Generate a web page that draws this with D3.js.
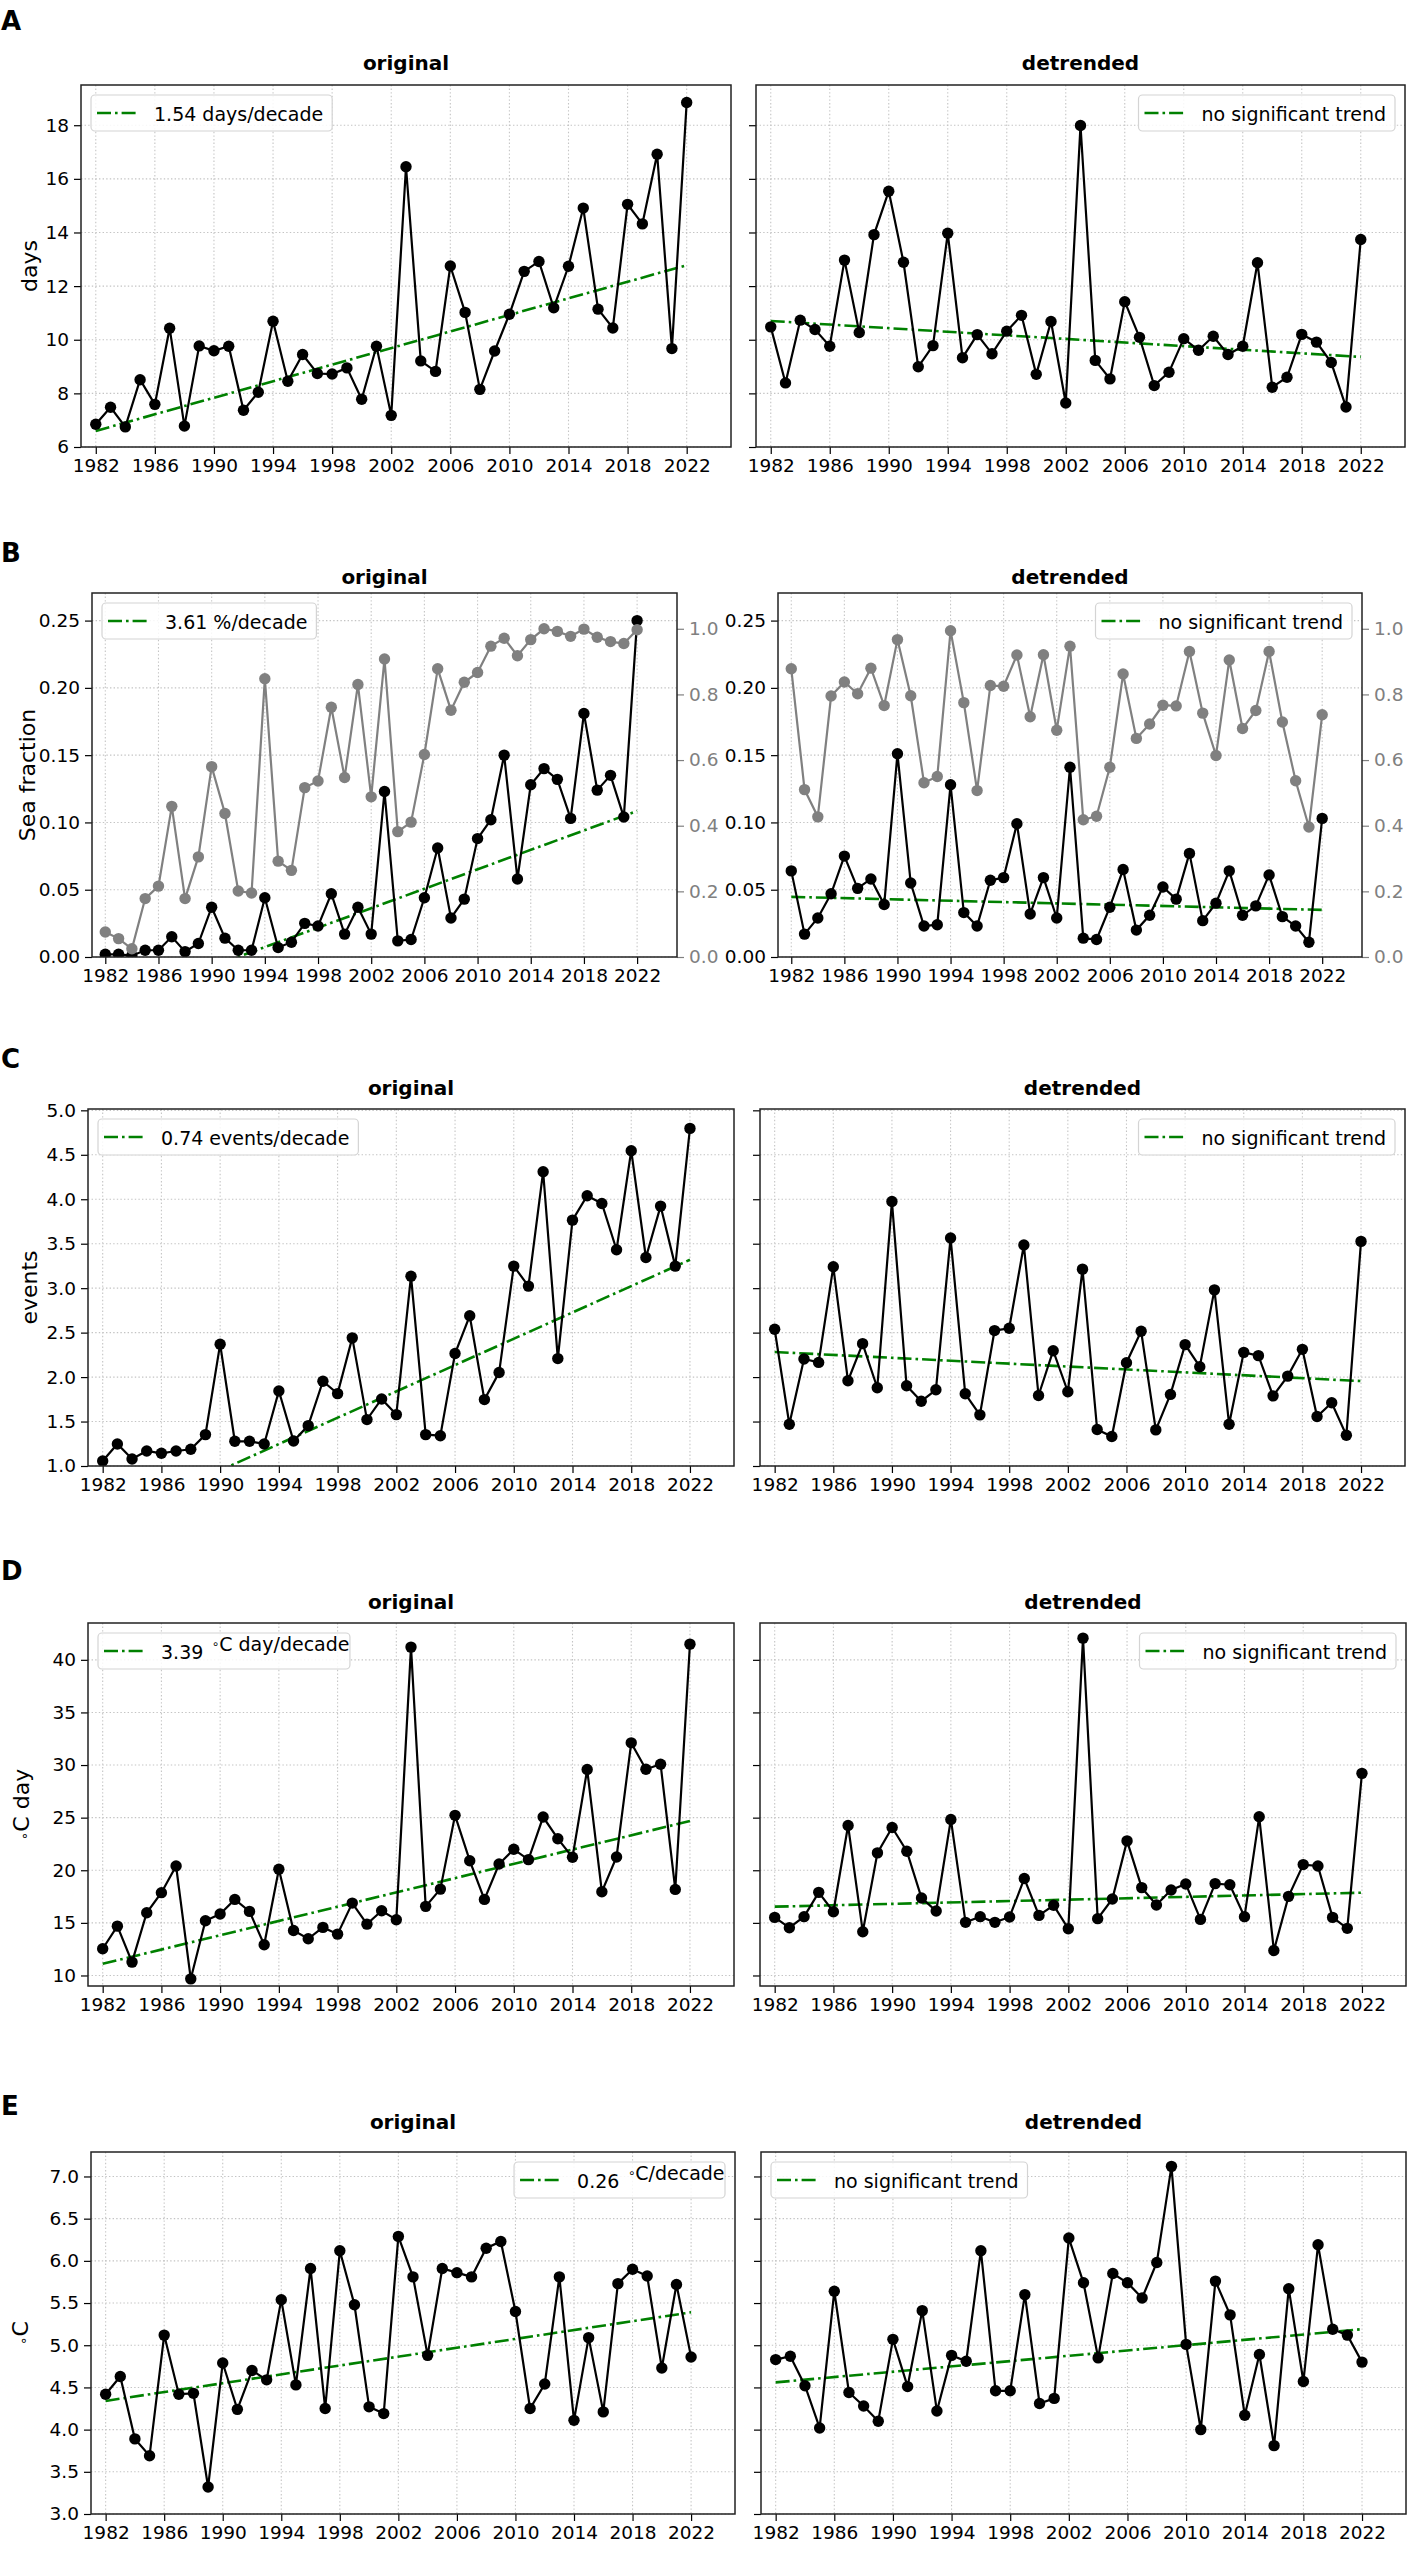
<!DOCTYPE html>
<html>
<head>
<meta charset="utf-8">
<script src="https://cdn.jsdelivr.net/npm/d3@7"></script>
<style>
  body { margin: 0; background: #fff; }
  svg { display: block; font-family: "DejaVu Sans", sans-serif; }
</style>
</head>
<body>
<div id="fig"></div>
<script>
// years on the x axis
const years = [1982,1983,1984,1985,1986,1987,1988,1989,1990,1991,1992,1993,1994,1995,1996,1997,1998,1999,2000,2001,
               2002,2003,2004,2005,2006,2007,2008,2009,2010,2011,2012,2013,2014,2015,2016,2017,2018,2019,2020,2021,2022];
const xTicks = [1982,1986,1990,1994,1998,2002,2006,2010,2014,2018,2022];
const trendYears = [1982, 2022];

// A - days
const daysOrig = [6.85,7.48,6.75,8.51,7.59,10.43,6.78,9.77,9.59,9.76, 7.37,8.04,10.69,8.45,9.45,8.74,8.72,8.95,7.78,9.76,
                  7.18,16.45,9.21,8.82,12.75,11.02,8.15,9.58,10.95,12.55, 12.92,11.19,12.74,14.91,11.14,10.44,15.05,14.32,16.92,9.67, 18.85];
const daysDetr = [10.48,8.39,10.73,10.38,9.76,12.97,10.27,13.92,15.54,12.89, 8.99,9.78,13.97,9.33,10.19,9.48,10.32,10.91,8.71,10.68,
                  7.64,17.99,9.23,8.54,11.42,10.09,8.29,8.79,10.04,9.61, 10.13,9.45,9.76,12.87,8.23,8.60,10.20,9.91,9.15,7.49, 13.74];
const daysTrendOrig = [6.60, 12.78];
const daysTrendDetr = [10.70, 9.36];
const daysTicks = [6, 8, 10, 12, 14, 16, 18];

// B - sea fraction (black, left axis) and gray series (right axis)
const seaOrig = [0.002,0.002,0.001,0.005,0.005,0.015,0.004,0.010,0.037,0.014, 0.005,0.005,0.044,0.007,0.011,0.025,0.023,0.047,0.017,0.037,
                 0.017,0.123,0.012,0.013,0.044,0.081,0.029,0.043,0.088,0.102, 0.150,0.058,0.128,0.140,0.132,0.103,0.181,0.124,0.135,0.104, 0.250];
const seaGrayOrig = [0.076,0.056,0.025,0.178,0.216,0.459,0.178,0.305,0.580,0.437, 0.201,0.195,0.848,0.292,0.264,0.516,0.536,0.761,0.547,0.830,
                     0.488,0.908,0.382,0.411,0.617,0.878,0.752,0.837,0.867,0.947, 0.971,0.918,0.967,1.000,0.992,0.977,0.999,0.974,0.961,0.955, 0.997];
const seaDetr = [0.064,0.017,0.029,0.047,0.075,0.051,0.058,0.039,0.151,0.055, 0.023,0.024,0.128,0.033,0.023,0.057,0.059,0.099,0.032,0.059,
                 0.029,0.141,0.014,0.013,0.037,0.065,0.020,0.031,0.052,0.043, 0.077,0.027,0.040,0.064,0.031,0.038,0.061,0.030,0.023,0.011, 0.103];
const seaGrayDetr = [0.878,0.510,0.427,0.795,0.838,0.802,0.880,0.766,0.967,0.796, 0.531,0.550,0.994,0.775,0.507,0.827,0.825,0.920,0.732,0.921,
                     0.691,0.947,0.418,0.429,0.578,0.862,0.666,0.710,0.767,0.765, 0.931,0.743,0.614,0.905,0.696,0.751,0.931,0.716,0.537,0.396, 0.738];
const seaTrendOrig = [-0.036, 0.1085];
const seaTrendDetr = [0.0447, 0.035];
const seaTicks = [0, 0.05, 0.10, 0.15, 0.20, 0.25];
const seaGrayTicks = [0, 0.2, 0.4, 0.6, 0.8, 1.0];

// C - events
const eventsOrig = [1.056,1.248,1.079,1.169,1.143,1.169,1.188,1.353,2.370,1.278, 1.278,1.248,1.844,1.281,1.454,1.953,1.814,2.441,1.522,1.754,
                    1.578,3.135,1.353,1.341,2.265,2.689,1.747,2.051,3.248,3.023, 4.310,2.208,3.765,4.039,3.953,3.432,4.546,3.345,3.923,3.248, 4.797];
const eventsDetr = [2.538,1.470,2.203,2.165,3.241,1.959,2.376,1.880,3.974,1.902, 1.729,1.857,3.564,1.812,1.575,2.523,2.549,3.485,1.793,2.297,
                    1.835,3.214,1.410,1.331,2.162,2.515,1.406,1.805,2.365,2.117, 2.981,1.470,2.278,2.241,1.789,2.011,2.312,1.556,1.711,1.346, 3.526];
const eventsTrendOrig = [0.359, 3.319];
const eventsTrendDetr = [2.282, 1.955];
const eventsTicks = [1.0, 1.5, 2.0, 2.5, 3.0, 3.5, 4.0, 4.5, 5.0];

// D - degree days
const degDayOrig = [12.54,14.69,11.27,15.96,17.87,20.40,9.68,15.20,15.84,17.23, 16.09,12.92,20.09,14.28,13.49,14.57,13.93,16.88,14.88,16.15,
                    15.30,41.21,16.57,18.21,25.22,20.91,17.23,20.59,21.99,21.01, 25.06,23.00,21.23,29.57,17.96,21.26,32.11,29.60,30.08,18.18, 41.49];
const degDayDetr = [15.52,14.54,15.59,17.90,16.06,24.25,14.16,21.65,24.06,21.81, 17.37,16.13,24.83,15.05,15.59,15.05,15.56,19.21,15.71,16.67,
                    14.44,42.06,15.40,17.27,22.79,18.35,16.70,18.13,18.70,15.33, 18.73,18.63,15.59,25.08,12.38,17.52,20.54,20.41,15.52,14.48, 29.21];
const degDayTrendOrig = [11.11, 24.68];
const degDayTrendDetr = [16.54, 17.87];
const degDayTicks = [10, 15, 20, 25, 30, 35, 40];

// E - temperature
const tempOrig = [4.42,4.63,3.89,3.69,5.12,4.42,4.43,3.32,4.79,4.24, 4.70,4.59,5.54,4.53,5.91,4.25,6.12,5.48,4.27,4.19,
                  6.29,5.81,4.88,5.91,5.86,5.81,6.15,6.23,5.40,4.25, 4.54,5.81,4.11,5.09,4.21,5.73,5.90,5.82,4.73,5.72, 4.86];
const tempDetr = [4.83,4.87,4.52,4.02,5.64,4.44,4.28,4.10,5.07,4.51, 5.41,4.22,4.88,4.81,6.12,4.46,4.46,5.60,4.31,4.37,
                  6.27,5.74,4.85,5.85,5.74,5.56,5.98,7.12,5.01,4.00, 5.76,5.36,4.17,4.89,3.81,5.67,4.57,6.19,5.19,5.12, 4.80];
const tempTrendOrig = [4.34, 5.39];
const tempTrendDetr = [4.56, 5.19];
const tempTicks = [3.0, 3.5, 4.0, 4.5, 5.0, 5.5, 6.0, 6.5, 7.0];

const DEG = "\u2218";

const svg = d3.select("#fig").append("svg")
    .attr("width", 1418)
    .attr("height", 2556);
svg.append("rect").attr("width", 1418).attr("height", 2556).attr("fill", "#fff");

let clipId = 0;

// text made of plain parts and raised degree signs (like mathtext $^\circ$)
function richText(sel, parts, size) {
    parts.forEach((p, i) => {
        if (p === DEG) {
            sel.append("tspan")
                .attr("font-size", size * 0.62)
                .attr("dx", i > 0 ? size * 0.45 : 0)
                .attr("dy", -size * 0.42)
                .text(DEG);
            sel.append("tspan").attr("dx", size * 0.18).attr("dy", size * 0.42).text("");
        } else {
            sel.append("tspan").text(p);
        }
    });
}

function drawPanel(p) {
    const g = svg.append("g");
    const x = d3.scaleLinear().domain([1981, 2025]).range([p.x0, p.x1]);
    const y = d3.scaleLinear().domain(p.yDomain).range([p.bottom, p.top]);

    const id = "clip" + (clipId++);
    svg.append("clipPath").attr("id", id)
        .append("rect")
        .attr("x", p.x0).attr("y", p.top)
        .attr("width", p.x1 - p.x0).attr("height", p.bottom - p.top);

    // grid
    const grid = g.append("g").attr("stroke", "#c4c4c4").attr("stroke-width", 1.1).attr("stroke-dasharray", "1.4,2.2");
    xTicks.forEach(t => grid.append("line")
        .attr("x1", x(t)).attr("x2", x(t)).attr("y1", p.top).attr("y2", p.bottom));
    p.yTicks.forEach(t => grid.append("line")
        .attr("x1", p.x0).attr("x2", p.x1).attr("y1", y(t)).attr("y2", y(t)));

    // title
    g.append("text")
        .attr("x", (p.x0 + p.x1) / 2).attr("y", p.titleY)
        .attr("text-anchor", "middle")
        .attr("font-size", 20).attr("font-weight", "bold")
        .text(p.title);

    const plot = g.append("g").attr("clip-path", `url(#${id})`);

    // trend
    const trendLine = d3.line().x((d, i) => x(trendYears[i])).y(d => y(d));
    plot.append("path")
        .datum(p.trend)
        .attr("fill", "none")
        .attr("stroke", "#008000")
        .attr("stroke-width", 2.6)
        .attr("stroke-dasharray", "14,4,2.6,4")
        .attr("d", trendLine);

    const drawSeries = (values, ys, color) => {
        const line = d3.line().x((d, i) => x(years[i])).y(d => ys(d));
        plot.append("path")
            .datum(values)
            .attr("fill", "none")
            .attr("stroke", color)
            .attr("stroke-width", 2.2)
            .attr("d", line);
        plot.selectAll(null)
            .data(values)
            .enter().append("circle")
            .attr("cx", (d, i) => x(years[i]))
            .attr("cy", d => ys(d))
            .attr("r", 5.7)
            .attr("fill", color);
    };
    drawSeries(p.values, y, "#000");

    // legend
    const leg = g.append("g");
    const lt = leg.append("text")
        .attr("font-size", 19)
        .attr("dominant-baseline", "central");
    richText(lt, p.legend, 19);
    const tw = lt.node().getComputedTextLength();
    const boxW = 63 + tw + 9, boxH = 36;
    const bx = p.legendRight ? p.x1 - 10 - boxW : p.x0 + 10;
    const by = p.top + 10;
    leg.insert("rect", "text")
        .attr("x", bx).attr("y", by)
        .attr("width", boxW).attr("height", boxH)
        .attr("rx", 4)
        .attr("fill", "#fff").attr("fill-opacity", 0.85)
        .attr("stroke", "#d4d4d4").attr("stroke-width", 1.2);
    leg.append("line")
        .attr("x1", bx + 6).attr("x2", bx + 46)
        .attr("y1", by + boxH / 2).attr("y2", by + boxH / 2)
        .attr("stroke", "#008000").attr("stroke-width", 2.6)
        .attr("stroke-dasharray", "14,4,2.6,4");
    lt.attr("x", bx + 63).attr("y", by + boxH / 2 + 1);

    // twin axis series (gray), drawn over the main axes
    if (p.twin) {
        const y2 = d3.scaleLinear().domain(p.twin.domain).range([p.bottom, p.top]);
        drawSeries(p.twin.values, y2, "#808080");
        const ax2 = g.append("g")
            .attr("transform", `translate(${p.x1},0)`)
            .call(d3.axisRight(y2).tickValues(p.twin.ticks).tickFormat(d3.format(".1f")).tickSize(7).tickPadding(5));
        ax2.select(".domain").remove();
        ax2.selectAll("line").attr("stroke", "#808080").attr("stroke-width", 1.2);
        ax2.selectAll("text").attr("font-size", 18.5).attr("fill", "#808080").attr("font-family", "DejaVu Sans");
    }

    // axes
    const ax = g.append("g")
        .attr("transform", `translate(0,${p.bottom})`)
        .call(d3.axisBottom(x).tickValues(xTicks).tickFormat(d3.format("d")).tickSize(7).tickPadding(5));
    ax.select(".domain").remove();
    ax.selectAll("line").attr("stroke", "#000").attr("stroke-width", 1.2);
    ax.selectAll("text").attr("font-size", 18.5).attr("fill", "#000").attr("font-family", "DejaVu Sans");

    const ay = g.append("g")
        .attr("transform", `translate(${p.x0},0)`)
        .call(d3.axisLeft(y).tickValues(p.yTicks).tickFormat(p.showYLabels ? d3.format(p.yFmt) : () => "").tickSize(7).tickPadding(5));
    ay.select(".domain").remove();
    ay.selectAll("line").attr("stroke", "#000").attr("stroke-width", 1.2);
    ay.selectAll("text").attr("font-size", 18.5).attr("fill", "#000").attr("font-family", "DejaVu Sans");

    // frame
    g.append("rect")
        .attr("x", p.x0).attr("y", p.top)
        .attr("width", p.x1 - p.x0).attr("height", p.bottom - p.top)
        .attr("fill", "none").attr("stroke", "#222").attr("stroke-width", 1.5);

    if (p.yLabel) {
        const yl = g.append("text")
            .attr("transform", `translate(${p.yLabelX},${(p.top + p.bottom) / 2}) rotate(-90)`)
            .attr("text-anchor", "middle")
            .attr("font-size", 22);
        richText(yl, p.yLabel, 22);
    }
}

function drawLetter(letter, yPos) {
    svg.append("text")
        .attr("x", 1).attr("y", yPos)
        .attr("font-size", 26).attr("font-weight", "bold")
        .text(letter);
}

// ---- row A
drawLetter("A", 30);
drawPanel({ x0: 81, x1: 731, top: 85, bottom: 447, titleY: 70, title: "original",
    yDomain: [6, 19.5], yTicks: daysTicks, yFmt: "d", showYLabels: true,
    values: daysOrig, trend: daysTrendOrig, legend: ["1.54 days/decade"], legendRight: false,
    yLabel: ["days"], yLabelX: 37 });
drawPanel({ x0: 756, x1: 1405, top: 85, bottom: 447, titleY: 70, title: "detrended",
    yDomain: [6, 19.5], yTicks: daysTicks, yFmt: "d", showYLabels: false,
    values: daysDetr, trend: daysTrendDetr, legend: ["no significant trend"], legendRight: true });

// ---- row B
drawLetter("B", 562);
drawPanel({ x0: 92, x1: 677, top: 593, bottom: 957, titleY: 584, title: "original",
    yDomain: [0, 0.2705], yTicks: seaTicks, yFmt: ".2f", showYLabels: true,
    values: seaOrig, trend: seaTrendOrig, legend: ["3.61 %/decade"], legendRight: false,
    twin: { domain: [0, 1.109], ticks: seaGrayTicks, values: seaGrayOrig },
    yLabel: ["Sea fraction"], yLabelX: 35 });
drawPanel({ x0: 778, x1: 1362, top: 593, bottom: 957, titleY: 584, title: "detrended",
    yDomain: [0, 0.2705], yTicks: seaTicks, yFmt: ".2f", showYLabels: true,
    values: seaDetr, trend: seaTrendDetr, legend: ["no significant trend"], legendRight: true,
    twin: { domain: [0, 1.109], ticks: seaGrayTicks, values: seaGrayDetr } });

// ---- row C
drawLetter("C", 1068);
drawPanel({ x0: 88, x1: 734, top: 1109, bottom: 1466, titleY: 1095, title: "original",
    yDomain: [1, 5.015], yTicks: eventsTicks, yFmt: ".1f", showYLabels: true,
    values: eventsOrig, trend: eventsTrendOrig, legend: ["0.74 events/decade"], legendRight: false,
    yLabel: ["events"], yLabelX: 37 });
drawPanel({ x0: 760, x1: 1405, top: 1109, bottom: 1466, titleY: 1095, title: "detrended",
    yDomain: [1, 5.015], yTicks: eventsTicks, yFmt: ".1f", showYLabels: false,
    values: eventsDetr, trend: eventsTrendDetr, legend: ["no significant trend"], legendRight: true });

// ---- row D
drawLetter("D", 1580);
drawPanel({ x0: 88, x1: 734, top: 1623, bottom: 1986, titleY: 1609, title: "original",
    yDomain: [9, 43.5], yTicks: degDayTicks, yFmt: "d", showYLabels: true,
    values: degDayOrig, trend: degDayTrendOrig, legend: ["3.39", DEG, "C day/decade"], legendRight: false,
    yLabel: [DEG, "C day"], yLabelX: 38 });
drawPanel({ x0: 760, x1: 1406, top: 1623, bottom: 1986, titleY: 1609, title: "detrended",
    yDomain: [9, 43.5], yTicks: degDayTicks, yFmt: "d", showYLabels: false,
    values: degDayDetr, trend: degDayTrendDetr, legend: ["no significant trend"], legendRight: true });

// ---- row E
drawLetter("E", 2115);
drawPanel({ x0: 91, x1: 735, top: 2152, bottom: 2514, titleY: 2129, title: "original",
    yDomain: [3, 7.29], yTicks: tempTicks, yFmt: ".1f", showYLabels: true,
    values: tempOrig, trend: tempTrendOrig, legend: ["0.26", DEG, "C/decade"], legendRight: true,
    yLabel: [DEG, "C"], yLabelX: 37 });
drawPanel({ x0: 761, x1: 1406, top: 2152, bottom: 2514, titleY: 2129, title: "detrended",
    yDomain: [3, 7.29], yTicks: tempTicks, yFmt: ".1f", showYLabels: false,
    values: tempDetr, trend: tempTrendDetr, legend: ["no significant trend"], legendRight: false });
</script>
</body>
</html>
